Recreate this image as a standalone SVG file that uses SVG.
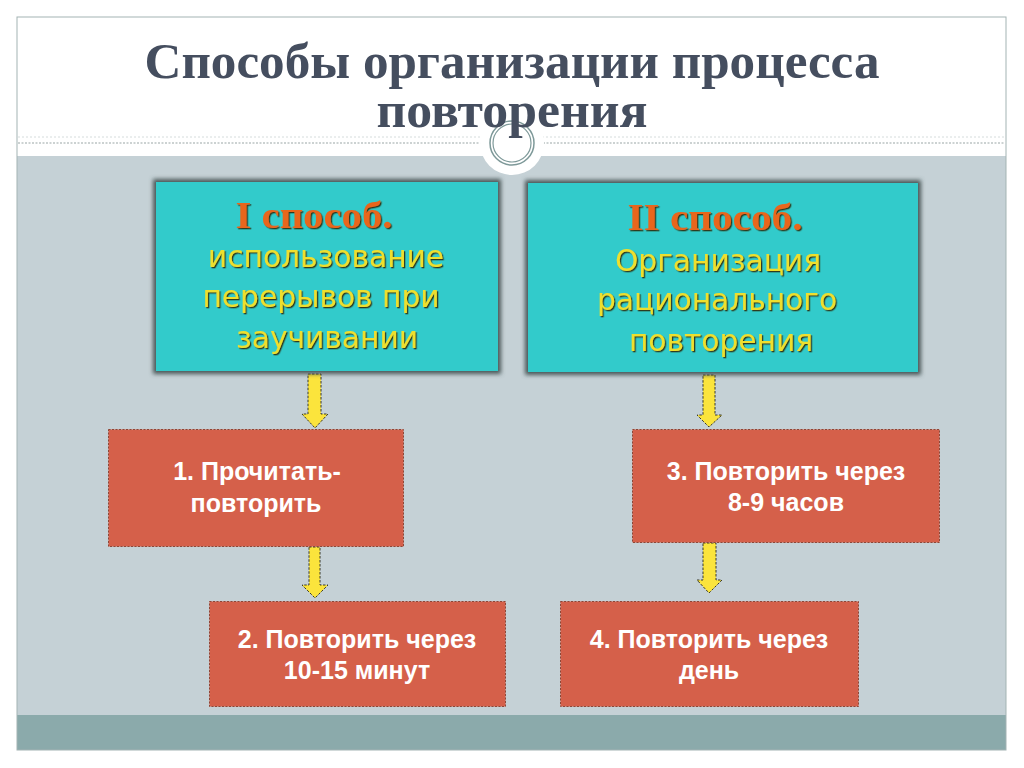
<svg xmlns="http://www.w3.org/2000/svg" width="1024" height="768" viewBox="0 0 1024 768">
  <style>
    .title { font-family: "Liberation Serif", "DejaVu Serif", serif; font-weight: bold; fill: #454E5F; font-size: 50px; text-anchor: middle; }
    .head { font-family: "Liberation Serif", "DejaVu Serif", serif; font-weight: bold; fill: #E8661C; font-size: 37px; text-anchor: middle; }
    .yel { font-family: "DejaVu Sans", "Liberation Sans", sans-serif; fill: #EEDF2E; font-size: 29.7px; text-anchor: middle; }
    .wht { font-family: "Liberation Sans", Arial, sans-serif; font-weight: bold; fill: #FFFFFF; font-size: 25px; text-anchor: middle; }
    .cyan { fill: #33CBCB; }
    .red { fill: #D5604A; stroke: #8E4636; stroke-width: 1; stroke-dasharray: 2 1.5; }
    .arrow { fill: #FBE43C; stroke: #3A3A2A; stroke-width: 1; stroke-dasharray: 2.5 1.5; }
  </style>
  <defs>
    <filter id="boxshade" x="-10%" y="-10%" width="120%" height="120%">
      <feMorphology in="SourceAlpha" operator="dilate" radius="2.5" result="d"/>
      <feGaussianBlur in="d" stdDeviation="2.2" result="b"/>
      <feFlood flood-color="#425050" flood-opacity="0.95"/>
      <feComposite in2="b" operator="in" result="s"/>
      <feMerge>
        <feMergeNode in="s"/>
        <feMergeNode in="SourceGraphic"/>
      </feMerge>
    </filter>
    <filter id="txtshade" x="-5%" y="-20%" width="110%" height="140%">
      <feDropShadow dx="1.3" dy="1.3" stdDeviation="0.7" flood-color="#2E2E08" flood-opacity="0.9"/>
    </filter>
  </defs>

  <!-- slide background -->
  <rect x="0" y="0" width="1024" height="768" fill="#FFFFFF"/>
  <rect x="17" y="156" width="989" height="559" fill="#C5D1D6"/>
  <rect x="17" y="715" width="989" height="35" fill="#8BAAAB"/>
  <rect x="17" y="17" width="989" height="733" fill="none" stroke="#A3B3B3" stroke-width="1"/>
  <line x1="18" y1="137" x2="1005" y2="137" stroke="#D5DCDC" stroke-width="1" stroke-dasharray="2 2"/>
  <line x1="18" y1="143" x2="1005" y2="143" stroke="#9AA6A6" stroke-width="1.2" stroke-dasharray="2 1.5"/>
  <circle cx="512" cy="143" r="32" fill="#FFFFFF"/>
  <circle cx="512" cy="143" r="22" fill="none" stroke="#7E9999" stroke-width="1.5"/>
  <circle cx="512" cy="143" r="19" fill="none" stroke="#7E9999" stroke-width="1.2"/>

  <g id="title">
    <text class="title" x="512" y="78" textLength="735" lengthAdjust="spacingAndGlyphs">Способы организации процесса</text>
    <text class="title" x="512" y="127" textLength="271" lengthAdjust="spacingAndGlyphs">повторения</text>
  </g>

  <g id="connectors">
    <polygon class="arrow" points="308,374 321,374 321,414 328,414 315,428 302,414 308,414"/>
    <polygon class="arrow" points="309,547 320,547 320,585 328,585 315,598 302,585 309,585"/>
    <polygon class="arrow" points="703,375 715,375 715,415 722,415 709,427 697,415 703,415"/>
    <polygon class="arrow" points="703,543 716,543 716,580 722,580 709,593 697,580 703,580"/>
  </g>

  <g id="method1">
    <rect class="cyan" x="156" y="182" width="342" height="189" filter="url(#boxshade)"/>
    <text class="head" x="314" y="228" textLength="157" lengthAdjust="spacingAndGlyphs" filter="url(#txtshade)">I способ.</text>
    <text class="yel" x="326" y="267" filter="url(#txtshade)">использование</text>
    <text class="yel" x="321" y="307" filter="url(#txtshade)">перерывов при</text>
    <text class="yel" x="327" y="348" filter="url(#txtshade)">заучивании</text>
  </g>

  <g id="method2">
    <rect class="cyan" x="528" y="183" width="390" height="189" filter="url(#boxshade)"/>
    <text class="head" x="715" y="230" textLength="175" lengthAdjust="spacingAndGlyphs" filter="url(#txtshade)">II способ.</text>
    <text class="yel" x="718" y="271" filter="url(#txtshade)">Организация</text>
    <text class="yel" x="717" y="310" filter="url(#txtshade)">рационального</text>
    <text class="yel" x="721" y="351" filter="url(#txtshade)">повторения</text>
  </g>

  <g id="step1">
    <rect class="red" x="108.5" y="429.5" width="295" height="117"/>
    <text class="wht" x="257" y="480">1. Прочитать-</text>
    <text class="wht" x="256" y="512">повторить</text>
  </g>

  <g id="step2">
    <rect class="red" x="209.5" y="601.5" width="296" height="105"/>
    <text class="wht" x="357" y="648">2. Повторить через</text>
    <text class="wht" x="357" y="679">10-15 минут</text>
  </g>

  <g id="step3">
    <rect class="red" x="632.5" y="429.5" width="307" height="113"/>
    <text class="wht" x="786" y="480">3. Повторить через</text>
    <text class="wht" x="786" y="511">8-9 часов</text>
  </g>

  <g id="step4">
    <rect class="red" x="560.5" y="601.5" width="298" height="105"/>
    <text class="wht" x="709" y="648">4. Повторить через</text>
    <text class="wht" x="709" y="679">день</text>
  </g>
</svg>
